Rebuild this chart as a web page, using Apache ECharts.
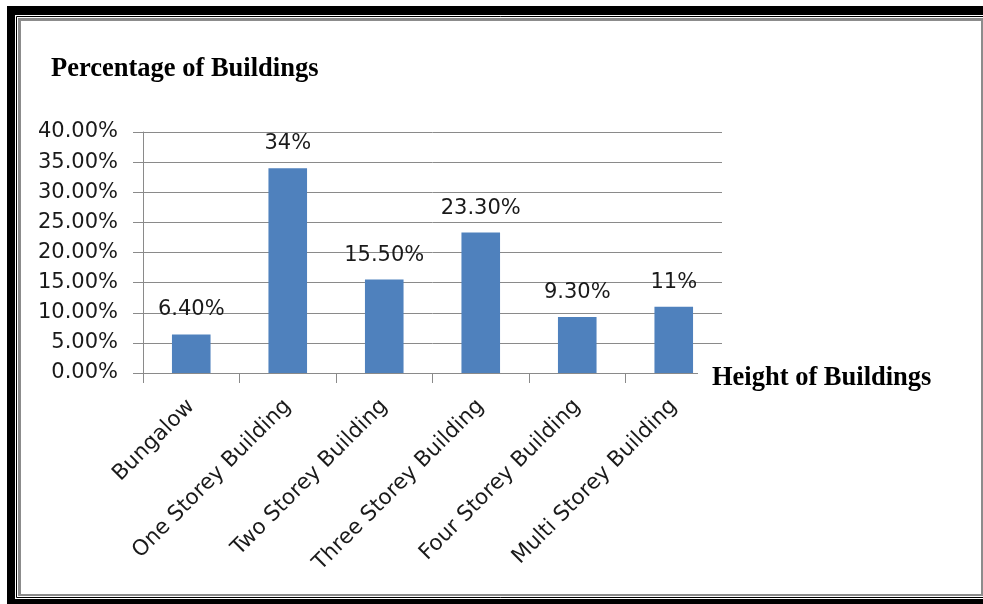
<!DOCTYPE html>
<html>
<head>
<meta charset="utf-8">
<title>Percentage of Buildings by Height</title>
<script src="https://cdn.jsdelivr.net/npm/echarts@6/dist/echarts.min.js"></script>
<style>
  html, body { margin: 0; padding: 0; background: #fff; }
  #chart { width: 983px; height: 604px; }
</style>
</head>
<body>
<div id="chart"></div>
<script>
// Building height categories and their share of all buildings (%)
const categories = [
  'Bungalow',
  'One Storey Building',
  'Two Storey Building',
  'Three Storey Building',
  'Four Storey Building',
  'Multi Storey Building'
];
const shares = [6.4, 34, 15.5, 23.3, 9.3, 11];
// decimals shown in each bar's value label
const shareDecimals = [2, 0, 2, 2, 2, 0];

// value axis range and step (%)
const axisMin = 0;
const axisMax = 40;
const axisStep = 5;

const titleText = 'Percentage of Buildings';
const xTitleText = 'Height of Buildings';

const labelFont = 'DejaVu Sans';
const titleFont = 'Liberation Serif';
const textColor = '#1a1a1a';
const lineColor = '#8a8a8a';
const barColor = '#4f81bd';

const chart = echarts.init(document.getElementById('chart'), null, { renderer: 'canvas' });

chart.setOption({
  animation: false,
  backgroundColor: '#ffffff',
  graphic: [
    // heavy black frame
    { type: 'rect', z: -10, silent: true, shape: { x: 7, y: 6, width: 990, height: 610 }, style: { fill: '#000' } },
    { type: 'rect', z: -9, silent: true, shape: { x: 15, y: 15, width: 980, height: 584 }, style: { fill: '#fff' } },
    // thin black rule inside the frame
    { type: 'rect', z: -8, silent: true, shape: { x: 16.5, y: 16.5, width: 1000, height: 581 }, style: { fill: null, stroke: '#000', lineWidth: 1 } },
    // grey inner border
    { type: 'rect', z: -7, silent: true, shape: { x: 18, y: 18, width: 965, height: 578 }, style: { fill: '#8c8c8c' } },
    { type: 'rect', z: -6, silent: true, shape: { x: 21, y: 21, width: 960, height: 573 }, style: { fill: '#fff' } }
  ],
  title: [
    {
      text: titleText,
      left: 51,
      top: 56,
      padding: 0,
      textStyle: { fontFamily: titleFont, fontSize: 26.5, fontWeight: 'bold', color: '#000' }
    },
    {
      // axis caption sits on a white box that hides the end of the axis line
      text: xTitleText,
      left: 698,
      top: 359,
      padding: [6, 4, 4, 14],
      backgroundColor: '#ffffff',
      z: 10,
      textStyle: { fontFamily: titleFont, fontSize: 26.5, fontWeight: 'bold', color: '#000' }
    }
  ],
  grid: {
    left: 143,
    right: 261,
    top: 132,
    bottom: 231,
    containLabel: false
  },
  xAxis: {
    type: 'category',
    data: categories,
    boundaryGap: true,
    axisLine: { show: true, lineStyle: { color: lineColor, width: 1 } },
    axisTick: { show: true, alignWithLabel: false, length: 10, lineStyle: { color: lineColor } },
    axisLabel: {
      interval: 0,
      rotate: 45,
      margin: 30,
      fontFamily: labelFont,
      fontSize: 21.5,
      color: textColor
    },
    splitLine: { show: false }
  },
  yAxis: {
    type: 'value',
    min: axisMin,
    max: axisMax,
    interval: axisStep,
    axisLine: { show: true, lineStyle: { color: lineColor, width: 1 } },
    axisTick: { show: true, length: 10, lineStyle: { color: lineColor } },
    axisLabel: {
      margin: 25,
      fontFamily: labelFont,
      fontSize: 21,
      color: textColor,
      formatter: v => v.toFixed(2) + '%'
    },
    splitLine: { show: true, lineStyle: { color: lineColor, width: 1 } }
  },
  series: [
    {
      type: 'bar',
      data: shares,
      barWidth: '40%',
      itemStyle: { color: barColor },
      label: {
        show: true,
        position: 'top',
        distance: 14,
        fontFamily: labelFont,
        fontSize: 21,
        color: textColor,
        formatter: p => shares[p.dataIndex].toFixed(shareDecimals[p.dataIndex]) + '%'
      }
    }
  ]
});
</script>
</body>
</html>
